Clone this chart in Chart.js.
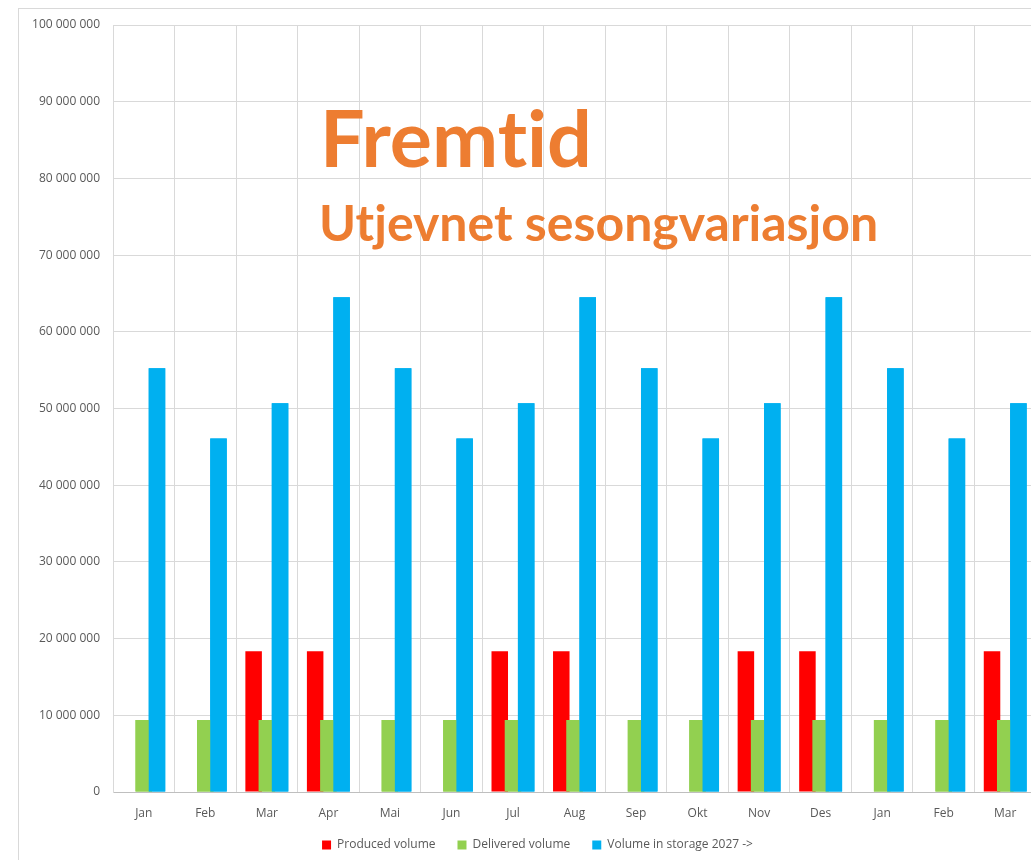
<!DOCTYPE html>
<html lang="no">
<head>
  <meta charset="UTF-8" />
  <title>Fremtid</title>
  <script src="https://cdn.jsdelivr.net/npm/chart.js"></script>
  <style>
    html, body { margin: 0; padding: 0; background: #fff; overflow: hidden; width: 1031px; height: 860px; }
    #frame { position: absolute; left: 18px; top: 8px; width: 1100px; height: 900px; border: 1px solid #d9d9d9; box-sizing: border-box; }
    #box { position: absolute; left: 0; top: 0; width: 1037px; height: 860px; }
    .overlay { position: absolute; font-family: Lato, "Open Sans", sans-serif; font-weight: bold; color: #ED7D31; white-space: nowrap; line-height: 1; font-variant-ligatures: none; }
    #t1 { left: 320px; top: 97px; font-size: 79px; }
    #t2 { left: 319px; top: 197px; font-size: 50px; }
  </style>
</head>
<body>
  <div id="frame">
    <div id="box"><canvas id="chart"></canvas></div>
  </div>
  <div class="overlay" id="t1">Fremtid</div>
  <div class="overlay" id="t2">Utjevnet sesongvariasjon</div>

  <script>
    const months = ["Jan", "Feb", "Mar", "Apr", "Mai", "Jun", "Jul", "Aug", "Sep", "Okt", "Nov", "Des", "Jan", "Feb", "Mar"];
    const produced = [0, 0, 18360000, 18360000, 0, 0, 18360000, 18360000, 0, 0, 18360000, 18360000, 0, 0, 18360000];
    const delivered = [9375000, 9375000, 9375000, 9375000, 9375000, 9375000, 9375000, 9375000, 9375000, 9375000, 9375000, 9375000, 9375000, 9375000, 9375000];
    const storage = [55250000, 46100000, 50700000, 64500000, 55250000, 46100000, 50700000, 64500000, 55250000, 46100000, 50700000, 64500000, 55250000, 46100000, 50700000];
    const seriesNames = ["Produced volume", "Delivered volume", "Volume in storage 2027 ->"];
    const yMax = 100000000;
    const yStep = 10000000;

    const font = { family: "'Open Sans', sans-serif", size: 12 };
    const grey = "#595959";

    // later series sit on top of the earlier ones, like the Excel overlap
    const overlapOrder = {
      id: "overlapOrder",
      afterDatasetsDraw(chart) {
        [1, 2].forEach(i => chart.getDatasetMeta(i).controller.draw());
      }
    };

    // nudge the legend a bit up and right (the original frame is wider than the picture)
    const legendNudge = {
      id: "legendNudge",
      afterLayout(chart) {
        const l = chart.legend;
        l.top -= 5; l.bottom -= 5;
        l.left += 10; l.right += 10;
      }
    };

    new Chart(document.getElementById("chart"), {
      type: "bar",
      data: {
        labels: months,
        datasets: [
          { label: seriesNames[0], data: produced, backgroundColor: "#FF0000" },
          { label: seriesNames[1], data: delivered, backgroundColor: "#92D050" },
          { label: seriesNames[2], data: storage, backgroundColor: "#00B0F0" }
        ]
      },
      options: {
        responsive: true,
        maintainAspectRatio: false,
        animation: false,
        categoryPercentage: 0.644,
        barPercentage: 1.25,
        layout: { padding: { left: 0, right: 20, top: 16, bottom: 3 } },
        plugins: {
          legend: {
            position: "bottom",
            labels: { boxWidth: 9, boxHeight: 9, padding: 22, color: grey, font: font }
          },
          tooltip: { enabled: false }
        },
        scales: {
          x: {
            grid: { color: "#d9d9d9", drawTicks: false },
            border: { color: "#bfbfbf" },
            ticks: { color: grey, font: font, padding: 14, maxRotation: 0, autoSkip: false },
            afterFit: s => { s.height = 30; }
          },
          y: {
            min: 0,
            max: yMax,
            grid: { color: "#d9d9d9", drawTicks: true, tickLength: 10, tickColor: "rgba(0,0,0,0)" },
            border: { color: "#d9d9d9" },
            ticks: {
              stepSize: yStep,
              color: grey,
              font: font,
              padding: 3,
              callback: v => String(v).replace(/\B(?=(\d{3})+(?!\d))/g, " ")
            },
            afterFit: s => { s.width = 94; }
          }
        }
      },
      plugins: [overlapOrder, legendNudge]
    });
  </script>
</body>
</html>
